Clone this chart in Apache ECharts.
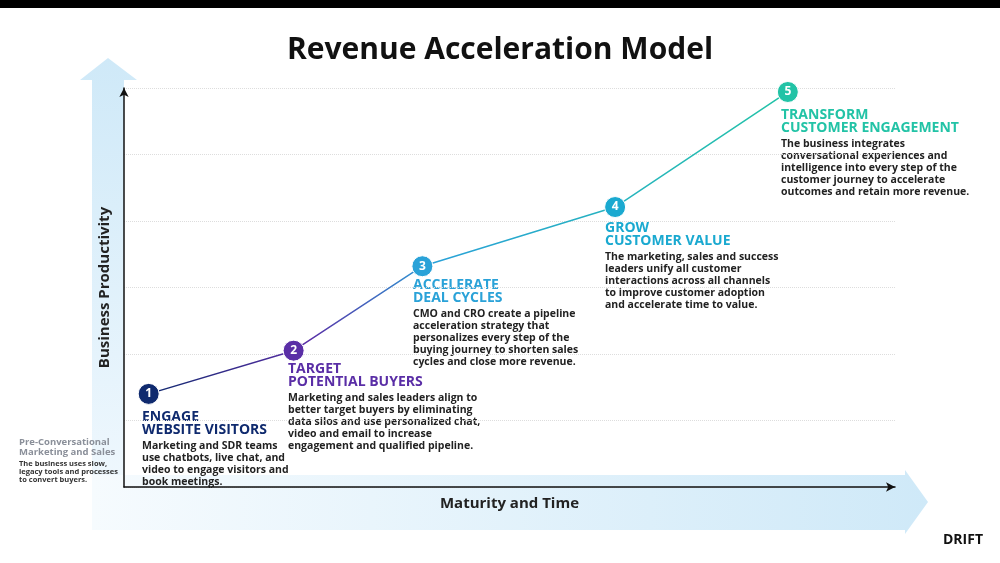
<!DOCTYPE html><html><head><meta charset="utf-8">
<script src="https://cdn.jsdelivr.net/npm/echarts@6/dist/echarts.min.js"></script>
<style>html,body{margin:0;padding:0;background:#fff}#c{width:1000px;height:563px}</style></head><body><div id="c"></div>
<script>
const stageNums=['1','2','3','4','5'];
const maturity=[0.32,2.2,3.87,6.37,8.61];
const productivity=[1.40,2.05,3.32,4.21,5.94];
const stageColors=['#0f2a6e','#5a2ea6','#2aa2d8','#1aa9d0','#22c3a6'];
const titles=[['ENGAGE','WEBSITE VISITORS'],['TARGET','POTENTIAL BUYERS'],['ACCELERATE','DEAL CYCLES'],['GROW','CUSTOMER VALUE'],['TRANSFORM','CUSTOMER ENGAGEMENT']];
const bodies=[
['Marketing and SDR teams','use chatbots, live chat, and','video to engage visitors and','book meetings.'],
['Marketing and sales leaders align to','better target buyers by eliminating','data silos and use personalized chat,','video and email to increase','engagement and qualified pipeline.'],
['CMO and CRO create a pipeline','acceleration strategy that','personalizes every step of the','buying journey to shorten sales','cycles and close more revenue.'],
['The marketing, sales and success','leaders unify all customer','interactions across all channels','to improve customer adoption','and accelerate time to value.'],
['The business integrates','conversational experiences and','intelligence into every step of the','customer journey to accelerate','outcomes and retain more revenue.']];
const blockPos=[[142,411],[288,363],[413,279],[605,222],[781,109]];
const F='"Open Sans","Noto Sans",sans-serif';
const chart=echarts.init(document.getElementById('c'));
const g=[];
g.push({type:'rect',shape:{x:0,y:0,width:1000,height:8},style:{fill:'#000'}});
g.push({type:'polygon',z:-10,shape:{points:[[108,58],[137,80],[124,80],[124,530],[92,530],[92,80],[80,80]]},style:{fill:new echarts.graphic.LinearGradient(0,0,0,1,[{offset:0,color:'#cfe9f8'},{offset:1,color:'#f2f9fe'}])}});
g.push({type:'polygon',z:-10,shape:{points:[[92,475],[905,475],[905,470],[928,502],[905,534],[905,530],[92,530]]},style:{fill:new echarts.graphic.LinearGradient(0,0,1,0,[{offset:0,color:'#f6fbfe'},{offset:1,color:'#cfe9f8'}])}});
g.push({type:'text',left:'center',top:35,style:{text:'Revenue Acceleration Model',font:'bold 30px '+F,fill:'#111'}});
g.push({type:'text',x:963,y:533,style:{text:'DRIFT',font:'bold 14px '+F,fill:'#111',textAlign:'center'}});
g.push({type:'text',x:19,y:437,style:{text:'Pre-Conversational\nMarketing and Sales',font:'bold 9.5px '+F,fill:'#8a8f99',lineHeight:10}});
g.push({type:'text',x:19,y:460,style:{text:'The business uses slow,\nlegacy tools and processes\nto convert buyers.',font:'bold 7.5px '+F,fill:'#333',lineHeight:8}});
for(let i=0;i<5;i++){
 const [x,y]=blockPos[i];
 g.push({type:'text',x:x,y:y,style:{text:titles[i].join('\n'),font:'bold 14px '+F,fill:stageColors[i],lineHeight:13}});
 g.push({type:'text',x:x,y:y+29,style:{text:bodies[i].join('\n'),font:'bold 10.5px '+F,fill:'#222',lineHeight:12}});
}
chart.setOption({
 animation:false,
 graphic:g,
 grid:{left:124,right:105,top:88,bottom:76},
 xAxis:{type:'value',min:0,max:10,name:'Maturity and Time',nameLocation:'middle',nameGap:9,nameTextStyle:{fontSize:15,fontWeight:'bold',color:'#222',fontFamily:F},
   axisLine:{lineStyle:{color:'#111',width:1.5},symbol:['none','arrow'],symbolSize:[7,9]},axisTick:{show:false},axisLabel:{show:false},splitLine:{show:false}},
 yAxis:{type:'value',min:0,max:6,interval:1,name:'Business Productivity',nameLocation:'middle',nameGap:12,nameTextStyle:{fontSize:15,fontWeight:'bold',color:'#222',fontFamily:F},
   axisLine:{show:true,lineStyle:{color:'#111',width:1.5},symbol:['none','arrow'],symbolSize:[7,9]},axisTick:{show:false},axisLabel:{show:false},
   splitLine:{lineStyle:{color:'#ddd',type:'dotted'}}},
 series:[{type:'line',data:maturity.map((x,i)=>[x,productivity[i]]),symbol:'circle',symbolSize:21,
   lineStyle:{width:1.5,color:new echarts.graphic.LinearGradient(0,0,1,0,[{offset:0,color:stageColors[0]},{offset:0.25,color:stageColors[1]},{offset:0.45,color:stageColors[2]},{offset:1,color:stageColors[4]}])},
   itemStyle:{color:p=>stageColors[p.dataIndex],borderColor:'#fff',borderWidth:1},
   label:{show:true,position:'inside',formatter:p=>stageNums[p.dataIndex],color:'#fff',fontWeight:'bold',fontSize:12,fontFamily:F}}]
});
</script></body></html>
